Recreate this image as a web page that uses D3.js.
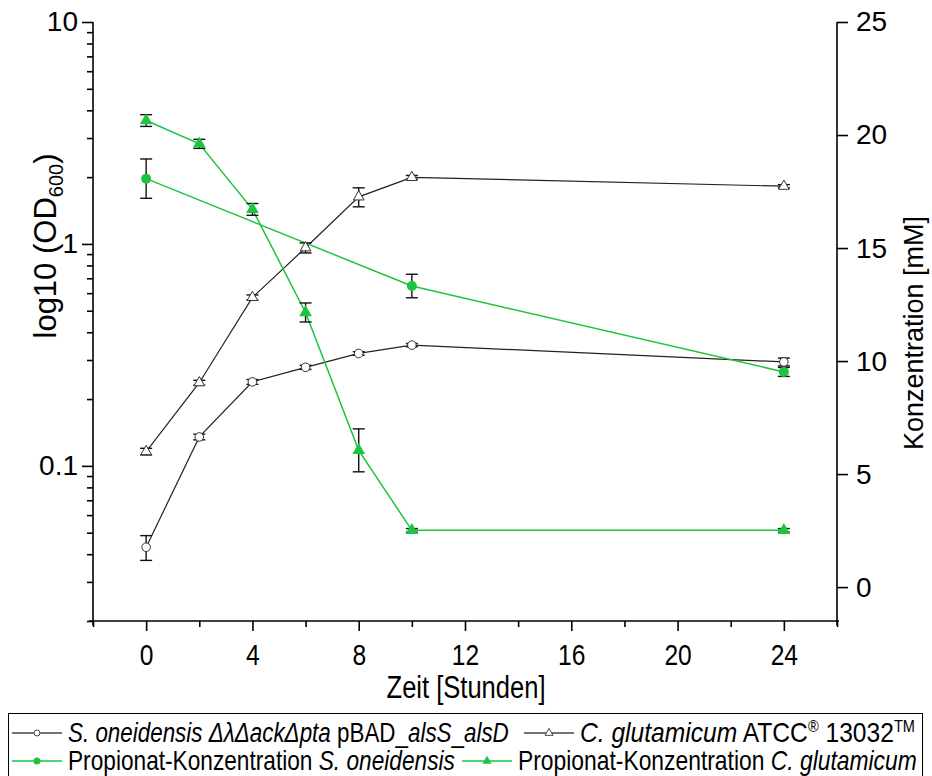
<!DOCTYPE html>
<html><head><meta charset="utf-8">
<script src="https://cdn.jsdelivr.net/npm/d3@7"></script>
<style>body{margin:0;background:#fff}svg{display:block}</style>
</head><body><svg id="c" width="932" height="776"></svg>
<script>
// ---- data ----
const times = [0, 2, 4, 6, 8, 10, 24];
const odSo = [0.043, 0.135, 0.239, 0.278, 0.321, 0.350, 0.294];
const odSoErr = [0.0055, 0.004, 0.006, 0.006, 0.006, 0.006, 0.012];
const odCg = [0.116, 0.237, 0.574, 0.961, 1.63, 1.995, 1.82];
const odCgErr = [0.004, 0.006, 0.015, 0.05, 0.16, 0.04, 0.03];
const concSoTimes = [0, 10, 24];
const concSo = [18.07, 13.32, 9.52];
const concSoErr = [0.87, 0.52, 0.2];
const concCg = [20.64, 19.61, 16.71, 12.15, 6.05, 2.51, 2.51];
const concCgErr = [0.26, 0.2, 0.26, 0.42, 0.95, 0.08, 0.08];
const xTicks = [0, 4, 8, 12, 16, 20, 24];
const xMinor = [-2, 2, 6, 10, 14, 18, 22, 26];
const yLeftTicks = [0.1, 1, 10];
const yLeftMinor = [0.02,0.03,0.04,0.05,0.06,0.07,0.08,0.09,0.2,0.3,0.4,0.5,0.6,0.7,0.8,0.9,2,3,4,5,6,7,8,9];
const yRightTicks = [0, 5, 10, 15, 20, 25];

const GREEN = "#1dc43f";
const svg = d3.select("#c");
const P = {left: 93, right: 837, top: 22, bottom: 621};
const x = d3.scaleLinear().domain([-2, 26]).range([P.left, P.right]);
const yL = d3.scaleLog().domain([0.02, 10]).range([P.bottom, P.top]);
const yR = d3.scaleLinear().domain([-1.5, 25]).range([P.bottom, P.top]);

const REG = "'Liberation Sans', Arial, sans-serif";
const NARROW = 0.82;

function styleAxis(g, fs) {
  g.select(".domain").remove();
  g.selectAll(".tick line").attr("stroke", "#000").attr("stroke-width", 1.6);
  g.selectAll(".tick text").attr("fill", "#000").style("font-family", REG).style("font-size", fs + "px");
}

// axes lines
const axG = svg.append("g");
axG.append("line").attr("x1", P.left).attr("x2", P.left).attr("y1", P.top).attr("y2", P.bottom + 4).attr("stroke", "#000").attr("stroke-width", 1.6);
axG.append("line").attr("x1", P.right).attr("x2", P.right).attr("y1", P.top).attr("y2", P.bottom + 4).attr("stroke", "#000").attr("stroke-width", 1.6);
axG.append("line").attr("x1", P.left - 4).attr("x2", P.right + 2).attr("y1", P.bottom).attr("y2", P.bottom).attr("stroke", "#000").attr("stroke-width", 1.6);

// x axis
const gx = svg.append("g").attr("transform", `translate(0,${P.bottom})`)
  .call(d3.axisBottom(x).tickValues(xTicks).tickSize(10).tickPadding(13).tickSizeOuter(0).tickFormat(d3.format("d")));
styleAxis(gx, 30);
gx.selectAll(".tick text").attr("transform", `scale(${NARROW},1)`);
const gx2 = svg.append("g").attr("transform", `translate(0,${P.bottom})`)
  .call(d3.axisBottom(x).tickValues(xMinor).tickSize(6).tickFormat("").tickSizeOuter(0));
styleAxis(gx2, 10);

// left axis
const gl = svg.append("g").attr("transform", `translate(${P.left},0)`)
  .call(d3.axisLeft(yL).tickValues(yLeftTicks).tickSize(11).tickPadding(4).tickSizeOuter(0).tickFormat(d => d >= 1 ? d3.format("d")(d) : String(d)));
styleAxis(gl, 28);
const gl2 = svg.append("g").attr("transform", `translate(${P.left},0)`)
  .call(d3.axisLeft(yL).tickValues(yLeftMinor).tickSize(6).tickFormat("").tickSizeOuter(0));
styleAxis(gl2, 10);

// right axis
const gr = svg.append("g").attr("transform", `translate(${P.right},0)`)
  .call(d3.axisRight(yR).tickValues(yRightTicks).tickSize(11).tickPadding(8).tickSizeOuter(0).tickFormat(d3.format("d")));
styleAxis(gr, 28);

// fit helper: horizontal squeeze factor to reach a target width
function fitWidth(textSel, target) {
  const w = textSel.node().getComputedTextLength();
  return target / w;
}

// axis titles
{
  const g = svg.append("g").attr("transform", `translate(466,698)`);
  const t = g.append("text").attr("text-anchor", "middle").style("font-family", REG).style("font-size", "31px").text("Zeit [Stunden]");
  g.attr("transform", `translate(466,698) scale(${fitWidth(t, 159)},1)`);
}
const lt = svg.append("text").attr("transform", "translate(56,246) rotate(-90)").attr("text-anchor", "middle")
  .style("font-family", REG).style("font-size", "31px");
lt.append("tspan").text("log10 (OD");
lt.append("tspan").attr("dy", 7).style("font-size", "20px").text("600");
lt.append("tspan").attr("dy", -7).text(")");
svg.append("text").attr("transform", "translate(923,333) rotate(-90)").attr("text-anchor", "middle")
  .style("font-family", REG).style("font-size", "27px").text("Konzentration [mM]");

// data series
const od1 = times.map((t, i) => ({t, v: odSo[i], e: odSoErr[i]}));
const od2 = times.map((t, i) => ({t, v: odCg[i], e: odCgErr[i]}));
const c1 = concSoTimes.map((t, i) => ({t, v: concSo[i], e: concSoErr[i]}));
const c2 = times.map((t, i) => ({t, v: concCg[i], e: concCgErr[i]}));

const plotG = svg.append("g");
function drawLine(data, ys, color, w) {
  plotG.append("path").datum(data).attr("fill", "none").attr("stroke", color).attr("stroke-width", w)
    .attr("d", d3.line().x(d => x(d.t)).y(d => ys(d.v)));
}
function drawErr(data, ys) {
  const g = plotG.append("g").attr("stroke", "#111").attr("stroke-width", 1.4);
  data.forEach(d => {
    const cx = x(d.t), y1 = ys(d.v - d.e), y2 = ys(d.v + d.e);
    g.append("line").attr("x1", cx).attr("x2", cx).attr("y1", y1).attr("y2", y2);
    g.append("line").attr("x1", cx - 6).attr("x2", cx + 6).attr("y1", y1).attr("y2", y1);
    g.append("line").attr("x1", cx - 6).attr("x2", cx + 6).attr("y1", y2).attr("y2", y2);
  });
}
drawLine(od1, yL, "#222", 1.2);
drawLine(od2, yL, "#222", 1.2);
drawLine(c1, yR, GREEN, 1.5);
drawLine(c2, yR, GREEN, 1.5);
drawErr(od1, yL); drawErr(od2, yL); drawErr(c1, yR); drawErr(c2, yR);

const tri = d3.symbol(d3.symbolTriangle);
plotG.selectAll(".m1").data(od1).join("circle").attr("cx", d => x(d.t)).attr("cy", d => yL(d.v)).attr("r", 4.3)
  .attr("fill", "#fff").attr("stroke", "#333").attr("stroke-width", 1);
plotG.selectAll(".m2").data(od2).join("path").attr("transform", d => `translate(${x(d.t)},${yL(d.v)})`)
  .attr("d", tri.size(50)()).attr("fill", "#fff").attr("stroke", "#333").attr("stroke-width", 1);
plotG.selectAll(".m3").data(c1).join("circle").attr("cx", d => x(d.t)).attr("cy", d => yR(d.v)).attr("r", 5)
  .attr("fill", GREEN);
plotG.selectAll(".m4").data(c2).join("path").attr("transform", d => `translate(${x(d.t)},${yR(d.v)})`)
  .attr("d", d3.symbol(d3.symbolTriangle).size(70)()).attr("fill", GREEN);

// legend
const lg = svg.append("g");
lg.append("rect").attr("x", 8.5).attr("y", 713.5).attr("width", 914).attr("height", 90).attr("fill", "none").attr("stroke", "#000").attr("stroke-width", 1);
const legendItems = [
  {x: 12, y: 733, type: "circle", color: "#444", w: 441,
   parts: [["S. oneidensis ", "italic"], ["ΔλΔackΔpta", "italic"], [" pBAD_", "normal"], ["alsS", "italic"], ["_", "normal"], ["alsD", "italic"]]},
  {x: 524, y: 733, type: "tri", color: "#444", w: 335,
   parts: [["C. glutamicum", "italic"], [" ATCC", "normal"], ["®", "sup"], [" 13032", "normal"], ["TM", "sup"]]},
  {x: 12, y: 761, type: "dot", color: GREEN, w: 387,
   parts: [["Propionat-Konzentration ", "normal"], ["S. oneidensis", "italic"]]},
  {x: 462, y: 761, type: "gtri", color: GREEN, w: 399,
   parts: [["Propionat-Konzentration ", "normal"], ["C. glutamicum", "italic"]]}
];
legendItems.forEach(it => {
  const g = lg.append("g");
  g.append("line").attr("x1", it.x).attr("x2", it.x + 50).attr("y1", it.y).attr("y2", it.y).attr("stroke", it.color).attr("stroke-width", 1.3);
  const cx = it.x + 25;
  if (it.type === "circle") g.append("circle").attr("cx", cx).attr("cy", it.y).attr("r", 3).attr("fill", "#fff").attr("stroke", "#444");
  if (it.type === "tri") g.append("path").attr("transform", `translate(${cx},${it.y})`).attr("d", d3.symbol(d3.symbolTriangle).size(28)()).attr("fill", "#fff").attr("stroke", "#444");
  if (it.type === "dot") g.append("circle").attr("cx", cx).attr("cy", it.y).attr("r", 3.5).attr("fill", GREEN);
  if (it.type === "gtri") g.append("path").attr("transform", `translate(${cx},${it.y})`).attr("d", d3.symbol(d3.symbolTriangle).size(36)()).attr("fill", GREEN);
  const tg = g.append("g");
  const t = tg.append("text").attr("x", 0).attr("y", 0).style("font-family", REG).style("font-size", "27px");
  let sup = false;
  it.parts.forEach(([s, st]) => {
    const ts = t.append("tspan").text(s);
    if (st === "italic") ts.style("font-style", "italic");
    if (st === "sup") { ts.attr("dy", -10).style("font-size", "16px"); sup = true; }
    else if (sup) { ts.attr("dy", 10); sup = false; }
  });
  const s = fitWidth(t, it.w);
  tg.attr("transform", `translate(${it.x + 56},${it.y + 9}) scale(${s},1)`);
});
</script></body></html>
